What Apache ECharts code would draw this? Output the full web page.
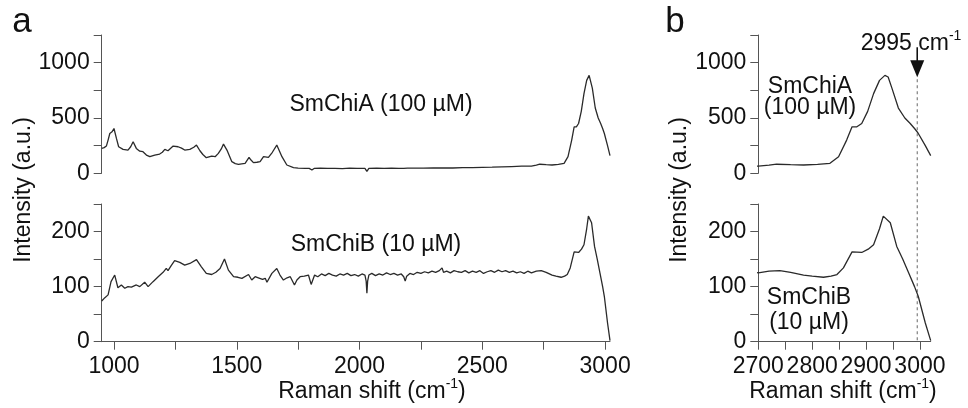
<!DOCTYPE html>
<html><head><meta charset="utf-8">
<script src="https://cdn.jsdelivr.net/npm/echarts@6/dist/echarts.min.js"></script>
<style>html,body{margin:0;padding:0;background:#fff}#c{width:968px;height:408px}</style>
</head><body><div id="c"></div>
<script>
// ---- SmChiA (100 uM) spectrum ----
const shiftA = [950,960,969,976,983,988,992,1000,1010,1019,1037,1057,1068,1078,1091,1105,1118,1132,1146,1156,1166,1186,1197,1207,1220,1241,1261,1275,1288,1309,1325,1336,1350,1362,1376,1398,1412,1425,1437,1446,1460,1480,1494,1507,1520,1534,1550,1558,1568,1582,1595,1609,1629,1645,1663,1684,1704,1731,1750,1779,1795,1806,1815,1840,1870,1900,1930,1960,1990,2022,2030,2038,2070,2100,2130,2160,2180,2186,2195,2230,2260,2300,2340,2380,2420,2460,2500,2540,2580,2620,2660,2700,2720,2734,2760,2784,2810,2833,2849,2864,2874,2883,2892,2903,2914,2925,2935,2941,2948,2960,2972,2982,2990,2997,3010,3020];
const chiA   = [225,232,246,300,360,345,375,405,315,240,216,210,240,285,225,200,195,165,150,158,165,174,190,216,204,246,240,228,210,216,235,255,204,170,141,156,150,180,220,264,210,105,88,81,86,90,144,120,96,100,105,150,144,190,255,150,75,51,47,45,44,30,44,46,44,45,43,46,44,45,18,45,46,45,47,45,44,32,46,47,46,48,49,48,51,52,54,55,58,61,64,65,74,82,78,75,80,90,150,300,420,420,450,560,720,840,885,870,770,590,500,450,405,360,250,160];

// ---- SmChiB (10 uM) spectrum ----
const shiftB = [950,963,976,988,1003,1016,1030,1044,1057,1071,1091,1105,1125,1139,1159,1180,1200,1213,1220,1233,1247,1268,1288,1309,1336,1356,1376,1398,1415,1432,1450,1466,1487,1505,1521,1548,1561,1575,1588,1605,1616,1623,1643,1663,1676,1690,1705,1718,1735,1745,1758,1775,1792,1803,1817,1830,1845,1860,1875,1890,1905,1920,1935,1950,1965,1980,1995,2010,2022,2027,2030,2033,2038,2050,2065,2080,2095,2110,2125,2140,2155,2170,2180,2186,2192,2205,2220,2235,2250,2265,2280,2295,2310,2325,2336,2342,2355,2370,2385,2400,2415,2430,2445,2460,2475,2490,2505,2520,2535,2550,2565,2580,2595,2610,2625,2640,2655,2670,2685,2700,2720,2740,2760,2784,2800,2821,2835,2846,2858,2874,2892,2904,2914,2925,2932,2945,2957,2968,2979,2990,2997,3010,3020];
const chiB   = [74,80,85,109,121,98,103,97,100,99,103,100,108,100,109,118,126,133,129,138,147,144,139,142,149,136,124,122,126,133,150,130,118,117,115,122,112,118,116,113,115,108,124,133,121,112,116,118,103,112,118,119,121,104,121,118,123,120,124,121,119,123,121,124,120,122,119,123,121,110,88,110,121,124,120,123,121,125,122,124,121,123,118,110,119,124,122,126,124,127,125,128,126,129,134,126,128,125,129,127,126,129,125,128,126,129,124,127,129,126,130,127,129,126,128,125,127,124,128,125,128,129,126,121,119,117,119,122,134,163,162,168,176,205,228,216,173,150,125,100,82,34,2];

// ---- axes ----
const xTicksA  = [1000,1250,1500,1750,2000,2250,2500,2750,3000];
const xLabelsA = [1000,1500,2000,2500,3000];
const xTicksB  = [2700,2750,2800,2850,2900,2950,3000];
const xLabelsB = [2700,2800,2900,3000];
const yLabelsTop = [0,500,1000];
const yLabelsBot = [0,100,200];
const markerShift = 2995;

const FONT = '"Liberation Sans", Arial, Helvetica, sans-serif';
const FS = 23;
const INK = '#111', AX = '#555', LINE = '#2a2a2a';
const pairs = (xs, ys) => xs.map((x, i) => [x, ys[i]]);

const chart = echarts.init(document.getElementById('c'), null, {renderer: 'canvas'});

function xAx(gi, min, max, ticks, labels, show) {
  return {
    type: 'value', gridIndex: gi, min: min, max: max, show: show,
    axisLine: {show: true, onZero: false, lineStyle: {color: AX, width: 1}},
    axisTick: {show: true, length: 8, customValues: ticks, lineStyle: {color: AX}},
    axisLabel: {show: true, customValues: labels, margin: 13, fontSize: FS, fontFamily: FONT, color: INK,
      hideOverlap: false, showMinLabel: true, showMaxLabel: true, formatter: v => String(v)},
    splitLine: {show: false}
  };
}
function yAx(gi, max, interval, labels) {
  return {
    type: 'value', gridIndex: gi, min: 0, max: max, interval: interval,
    axisLine: {show: true, lineStyle: {color: AX, width: 1}},
    axisTick: {show: true, length: 8, lineStyle: {color: AX}},
    axisLabel: {margin: 12, fontSize: FS, fontFamily: FONT, color: INK,
      formatter: v => labels.indexOf(v) >= 0 ? String(v) : ''},
    splitLine: {show: false}
  };
}
function ser(i, xs, ys) {
  return {type: 'line', xAxisIndex: i, yAxisIndex: i, data: pairs(xs, ys), showSymbol: false,
    symbol: 'none', clip: true, animation: false, lineStyle: {color: LINE, width: 1.3}};
}

chart.setOption({
  animation: false,
  grid: [
    {left: 101.7, top: 35, width: 508.3, height: 138.3},
    {left: 101.7, top: 204, width: 508.3, height: 137.7},
    {left: 758.3, top: 35, width: 172.4, height: 138.3},
    {left: 758.3, top: 204, width: 172.4, height: 137.7}
  ],
  xAxis: [
    xAx(0, 950, 3020, xTicksA, xLabelsA, false),
    xAx(1, 950, 3020, xTicksA, xLabelsA, true),
    xAx(2, 2700, 3020, xTicksB, xLabelsB, false),
    xAx(3, 2700, 3020, xTicksB, xLabelsB, true)
  ],
  yAxis: [
    yAx(0, 1250, 250, yLabelsTop),
    yAx(1, 250, 50, yLabelsBot),
    yAx(2, 1250, 250, yLabelsTop),
    yAx(3, 250, 50, yLabelsBot)
  ],
  series: [
    ser(0, shiftA, chiA),
    ser(1, shiftB, chiB),
    ser(2, shiftA, chiA),
    ser(3, shiftB, chiB)
  ]
});

const pBot = chart.convertToPixel({xAxisIndex: 3, yAxisIndex: 3}, [markerShift, 0]);
const pTop = chart.convertToPixel({xAxisIndex: 2, yAxisIndex: 2}, [markerShift, 850]);
const mx = pBot[0];

const txt = (x, y, text, size, extra) => Object.assign({
  type: 'text', x: x, y: y, silent: true,
  style: {text: text, fontSize: size || FS, fontFamily: FONT, fill: INK, align: 'center', verticalAlign: 'middle'}
}, extra || {});
const richTxt = (x, y, main, sup, after) => ({
  type: 'text', x: x, y: y, silent: true,
  style: {
    text: '{a|' + main + '}{s|' + sup + '}{a|' + after + '}',
    align: 'center', verticalAlign: 'middle', fill: INK,
    rich: {
      a: {fontSize: FS, fontFamily: FONT, fill: INK, lineHeight: 26, verticalAlign: 'bottom'},
      s: {fontSize: 14, fontFamily: FONT, fill: INK, lineHeight: 14, verticalAlign: 'top'}
    }
  }
});

chart.setOption({
  graphic: [
    txt(22, 22, 'a', 35),
    txt(675, 22, 'b', 35),
    txt(24, 190, 'Intensity (a.u.)', FS, {rotation: Math.PI / 2}),
    txt(680, 190, 'Intensity (a.u.)', FS, {rotation: Math.PI / 2}),
    richTxt(372, 390, 'Raman shift (cm', '-1', ')'),
    richTxt(843, 390, 'Raman shift (cm', '-1', ')'),
    txt(381, 105, 'SmChiA (100 µM)', FS),
    txt(376, 245, 'SmChiB (10 µM)', FS),
    txt(810, 87, 'SmChiA', FS),
    txt(810, 108, '(100 µM)', FS),
    txt(809, 298, 'SmChiB', FS),
    txt(809, 323, '(10 µM)', FS),
    richTxt(911, 42, '2995 cm', '-1', ''),
    {type: 'line', silent: true, shape: {x1: mx, y1: pTop[1], x2: mx, y2: pBot[1]},
      style: {stroke: '#666', lineWidth: 1, lineDash: [3, 3]}},
    {type: 'line', silent: true, shape: {x1: mx, y1: pTop[1] - 32, x2: mx, y2: pTop[1] - 16},
      style: {stroke: '#111', lineWidth: 1.6}},
    {type: 'polygon', silent: true,
      shape: {points: [[mx - 7, pTop[1] - 19], [mx + 7, pTop[1] - 19], [mx, pTop[1] - 2]]},
      style: {fill: '#111'}}
  ]
});
</script>
</body></html>
